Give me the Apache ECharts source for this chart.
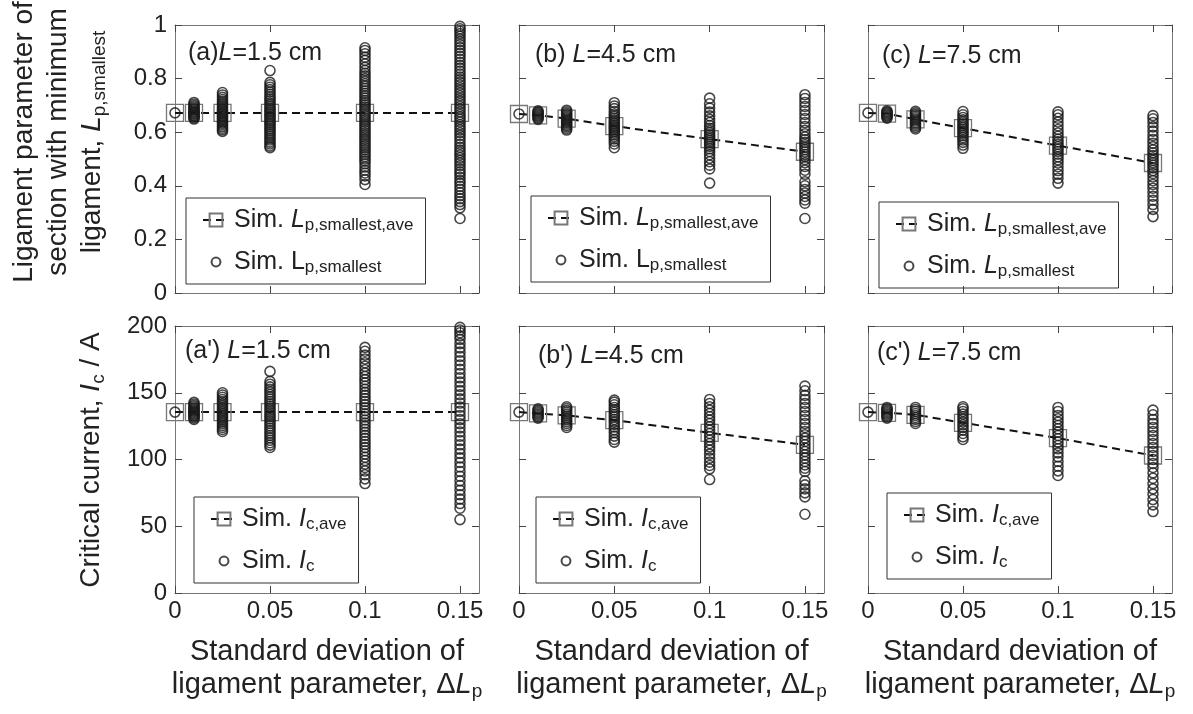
<!DOCTYPE html>
<html>
<head>
<meta charset="utf-8">
<script src="https://cdn.jsdelivr.net/npm/echarts@6/dist/echarts.min.js"></script>
<style>
  html, body { margin: 0; padding: 0; background: #fff; }
  #b { width: 1193px; height: 714px; }
</style>
</head>
<body>
<div id="b"></div>
<script>
// x positions (standard deviation of ligament parameter)
var xs = [0, 0.01, 0.025, 0.05, 0.1, 0.15];

// ---- top row: Lp,smallest ----
var lpA = [
  [0.672],
  [0.649,0.653,0.657,0.66,0.663,0.667,0.67,0.674,0.677,0.681,0.685,0.689,0.694,0.699,0.705,0.711],
  [0.603,0.609,0.615,0.621,0.627,0.633,0.638,0.643,0.648,0.653,0.658,0.662,0.667,0.671,0.676,0.68,0.685,0.69,0.696,0.702,0.708,0.715,0.722,0.73,0.739,0.748],
  [0.542,0.548,0.556,0.563,0.571,0.578,0.586,0.593,0.6,0.607,0.614,0.621,0.628,0.634,0.64,0.646,0.652,0.658,0.664,0.67,0.676,0.682,0.688,0.695,0.702,0.709,0.717,0.724,0.732,0.741,0.75,0.759,0.768,0.777,0.786,0.83],
  [0.405,0.423,0.437,0.448,0.458,0.47,0.482,0.492,0.5,0.509,0.517,0.525,0.534,0.542,0.55,0.558,0.566,0.574,0.582,0.59,0.598,0.606,0.614,0.622,0.63,0.638,0.646,0.654,0.662,0.67,0.678,0.686,0.694,0.702,0.71,0.718,0.727,0.736,0.745,0.754,0.763,0.772,0.781,0.79,0.8,0.81,0.82,0.83,0.842,0.855,0.868,0.88,0.893,0.905,0.915],
  [0.278,0.318,0.33,0.341,0.352,0.363,0.375,0.387,0.398,0.41,0.42,0.432,0.443,0.452,0.463,0.475,0.485,0.495,0.505,0.515,0.524,0.533,0.544,0.555,0.566,0.577,0.588,0.598,0.608,0.618,0.628,0.638,0.648,0.657,0.666,0.676,0.686,0.696,0.706,0.716,0.726,0.736,0.746,0.756,0.766,0.776,0.786,0.796,0.806,0.817,0.828,0.839,0.85,0.861,0.872,0.883,0.894,0.905,0.916,0.927,0.938,0.948,0.958,0.968,0.977,0.986,0.995]
];
var lpAave = [0.672, 0.672, 0.672, 0.672, 0.672, 0.672];

var lpB = [
  [0.668],
  [0.648,0.652,0.656,0.66,0.664,0.668,0.672,0.676,0.68],
  [0.608,0.614,0.62,0.625,0.63,0.635,0.64,0.645,0.65,0.655,0.66,0.665,0.67,0.676,0.682],
  [0.542,0.556,0.566,0.575,0.583,0.59,0.597,0.603,0.609,0.615,0.62,0.626,0.632,0.638,0.645,0.652,0.66,0.668,0.677,0.688,0.698,0.71],
  [0.41,0.463,0.477,0.49,0.503,0.516,0.528,0.538,0.547,0.555,0.562,0.569,0.576,0.583,0.59,0.598,0.606,0.615,0.625,0.636,0.648,0.661,0.675,0.69,0.706,0.727],
  [0.278,0.335,0.347,0.36,0.373,0.386,0.4,0.415,0.443,0.458,0.472,0.486,0.498,0.508,0.517,0.526,0.535,0.544,0.553,0.562,0.572,0.582,0.594,0.607,0.621,0.636,0.651,0.666,0.681,0.696,0.711,0.726,0.74]
];
var lpBave = [0.668, 0.663, 0.651, 0.623, 0.574, 0.527];

var lpC = [
  [0.672],
  [0.652,0.656,0.66,0.664,0.668,0.672,0.676,0.68],
  [0.612,0.618,0.624,0.63,0.636,0.642,0.648,0.654,0.66,0.666,0.672,0.678],
  [0.54,0.552,0.562,0.571,0.58,0.588,0.596,0.603,0.61,0.617,0.624,0.631,0.638,0.646,0.655,0.665,0.677],
  [0.41,0.428,0.443,0.457,0.471,0.485,0.497,0.508,0.518,0.528,0.537,0.546,0.555,0.564,0.574,0.585,0.597,0.61,0.624,0.638,0.652,0.665,0.676],
  [0.285,0.312,0.33,0.346,0.361,0.376,0.391,0.405,0.419,0.433,0.446,0.457,0.467,0.477,0.486,0.495,0.504,0.513,0.523,0.534,0.546,0.559,0.573,0.588,0.604,0.62,0.636,0.65,0.662]
];
var lpCave = [0.672, 0.669, 0.648, 0.615, 0.55, 0.485];

// ---- bottom row: Ic ----
var icA = [
  [135.5],
  [130,131,132,132.8,133.6,134.4,135.2,136,136.8,137.6,138.5,139.5,140.5,141.6,142.8],
  [121,122.5,124,125.4,126.8,128.2,129.5,130.8,132,133.2,134.4,135.6,136.8,138,139.3,140.6,142,143.5,145,146.6,148.3,150],
  [109,110.8,112.6,114.4,116.2,118,119.8,121.6,123.4,125.2,127,128.7,130.4,132,133.6,135.2,136.8,138.4,140,141.7,143.4,145.1,146.9,148.7,150.6,152.5,154.4,156.4,158.5,166],
  [82,85.5,88.6,91.4,94,96.6,99.2,101.7,104.1,106.5,108.9,111.2,113.5,115.8,118.1,120.4,122.7,125,127.3,129.6,131.9,134.2,136.5,138.8,141.1,143.4,145.7,148,150.3,152.6,155,157.4,159.8,162.2,164.7,167.2,169.8,172.5,175.3,178.2,181.1,184],
  [55,63.5,67,70.3,73.6,77,80.5,84,87.5,91,94.4,97.8,101.2,104.5,107.8,111,114.2,117.4,120.6,123.7,126.8,129.9,133,136.1,139.2,142.3,145.4,148.5,151.6,154.8,158,161.2,164.4,167.6,170.8,174,177.2,180.4,183.6,186.8,190,192.6,195,197,199]
];
var icAave = [135.5, 135.5, 135.5, 135.5, 135.5, 135.5];

var icB = [
  [135.5],
  [131,132,133,134,135,136,137,138],
  [124,125.5,127,128.4,129.8,131.2,132.6,134,135.4,136.8,138.2,139.5],
  [113,115,117.5,120,122.2,124.3,126.3,128.2,130,131.8,133.6,135.4,137.2,139,141,143,144.5],
  [85,93,95.5,98,101,104,107,109.5,112,114.5,117,119.5,122,124.5,127,129.5,132,134.5,137,139.5,142,145],
  [59,72,75,78,81,84,91,93.5,96,98.5,101,103.5,106,108.5,111,113.5,116,118.5,121,124,127,130,133,136,139,142,145,148,151.5,155]
];
var icBave = [135.5, 134.5, 133, 129.5, 120, 111];

var icC = [
  [135.5],
  [131,132,133,134,135,136,137,138,139],
  [127,128.5,130,131.5,133,134.5,136,137.5,139],
  [115,117,119.5,122,124,126,128,130,132,134,136,138,139.5],
  [88,91.5,95,98.5,102,105,108,110.5,113,115.5,118,120.5,123,125.5,128,130.5,133,136,139],
  [61,66,70,74,78,82,86,90,94,97,100,103,106,109,112,115,118,121,124,127,130,133.5,137]
];
var icCave = [135.5, 135, 133.5, 127.5, 116, 103];

var panelLabels = ['(a){i|L}=1.5 cm', '(b) {i|L}=4.5 cm', '(c) {i|L}=7.5 cm',
                   "(a') {i|L}=1.5 cm", "(b') {i|L}=4.5 cm", "(c') {i|L}=7.5 cm"];

var FONT = '"Liberation Sans", Arial, sans-serif';
var INK = '#222';

var panels = [
  {sim: lpA, ave: lpAave, name: 'A'},
  {sim: lpB, ave: lpBave, name: 'B'},
  {sim: lpC, ave: lpCave, name: 'C'},
  {sim: icA, ave: icAave, name: 'Ap'},
  {sim: icB, ave: icBave, name: 'Bp'},
  {sim: icC, ave: icCave, name: 'Cp'}
];

var grids = [
  {left: 175, top: 25, width: 304, height: 268},
  {left: 519, top: 25, width: 305, height: 268},
  {left: 868, top: 25, width: 304, height: 268},
  {left: 175, top: 326, width: 304, height: 267},
  {left: 519, top: 326, width: 305, height: 267},
  {left: 868, top: 326, width: 304, height: 267}
];
var legPos = [[186, 198], [531, 196], [879, 202], [194, 497], [536, 497], [887, 493]];
var titlePos = [[188, 41], [535, 43], [882, 44], [185, 339], [538, 344], [877, 341]];

var richBase = function (fs) {
  return {
    i: {fontStyle: 'italic', fontSize: fs, fontFamily: FONT, color: INK},
    sub: {fontSize: Math.round(fs * 0.66), fontFamily: FONT, color: INK, verticalAlign: 'bottom', lineHeight: Math.round(fs * 0.66)}
  };
};

var legendText = {
  aveA: 'Sim. {i|L}{sub|p,smallest,ave}', simA: 'Sim. L{sub|p,smallest}',
  aveB: 'Sim. {i|L}{sub|p,smallest,ave}', simB: 'Sim. L{sub|p,smallest}',
  aveC: 'Sim. {i|L}{sub|p,smallest,ave}', simC: 'Sim. {i|L}{sub|p,smallest}',
  aveAp: 'Sim. {i|I}{sub|c,ave}', simAp: 'Sim. {i|I}{sub|c}',
  aveBp: 'Sim. {i|I}{sub|c,ave}', simBp: 'Sim. {i|I}{sub|c}',
  aveCp: 'Sim. {i|I}{sub|c,ave}', simCp: 'Sim. {i|I}{sub|c}'
};

var xAxes = [], yAxes = [], series = [], legends = [], titles = [];
var circleIcon = 'path://M0,0M26,0M26,18M0,18M8,9a5,5 0 1,0 10,0a5,5 0 1,0 -10,0';

panels.forEach(function (p, i) {
  var row = i < 3 ? 0 : 1, col = i % 3;
  var tickStyle = {inside: true, length: 7, lineStyle: {color: '#444', width: 1}};
  var lineStyle = {show: true, onZero: false, lineStyle: {color: '#777', width: 1}};
  xAxes.push({
    gridIndex: i, type: 'value', min: 0, max: 0.16, interval: 0.05, position: 'bottom',
    axisLine: lineStyle, axisTick: tickStyle, splitLine: {show: false},
    axisLabel: {show: row === 1, showMaxLabel: false, fontSize: 24, fontFamily: FONT, color: INK, margin: 6},
    name: row === 1 ? 'Standard deviation of\nligament parameter, \u0394{i|L}{sub|p}' : '',
    nameLocation: 'middle', nameGap: 42,
    nameTextStyle: {fontSize: 29, fontFamily: FONT, color: INK, lineHeight: 33, rich: richBase(29)}
  });
  xAxes.push({
    gridIndex: i, type: 'value', min: 0, max: 0.16, interval: 0.05, position: 'top',
    axisLine: lineStyle, axisTick: tickStyle, splitLine: {show: false}, axisLabel: {show: false}
  });
  var ymax = row === 0 ? 1 : 200, yint = row === 0 ? 0.2 : 50;
  yAxes.push({
    gridIndex: i, type: 'value', min: 0, max: ymax, interval: yint, position: 'left',
    axisLine: lineStyle, axisTick: tickStyle, splitLine: {show: false},
    axisLabel: {show: col === 0, fontSize: 24, fontFamily: FONT, color: INK, margin: 8}
  });
  yAxes.push({
    gridIndex: i, type: 'value', min: 0, max: ymax, interval: yint, position: 'right',
    axisLine: lineStyle, axisTick: tickStyle, splitLine: {show: false}, axisLabel: {show: false}
  });

  var pts = [];
  p.sim.forEach(function (vals, k) {
    vals.forEach(function (v) { pts.push([xs[k], v]); });
  });
  series.push({
    type: 'line', name: 'ave' + p.name, xAxisIndex: 2 * i, yAxisIndex: 2 * i,
    data: xs.map(function (x, k) { return [x, p.ave[k]]; }),
    symbol: 'rect', symbolSize: 17, z: 2,
    lineStyle: {type: [8, 5], width: 2, color: '#111'},
    itemStyle: {color: 'rgba(0,0,0,0)', borderColor: '#777', borderWidth: 1.3}
  });
  series.push({
    type: 'scatter', name: 'sim' + p.name, xAxisIndex: 2 * i, yAxisIndex: 2 * i,
    data: pts, symbol: 'circle', symbolSize: 10, z: 3,
    itemStyle: {color: 'rgba(0,0,0,0)', borderColor: '#1a1a1a', borderWidth: 1.6}
  });

  legends.push({
    left: legPos[i][0], top: legPos[i][1], orient: 'vertical', selectedMode: false,
    data: [{name: 'ave' + p.name}, {name: 'sim' + p.name, icon: circleIcon}],
    borderColor: '#333', borderWidth: 1, padding: [8, 12, 8, 16],
    itemGap: 14, itemWidth: 26, itemHeight: 16,
    formatter: function (n) { return legendText[n]; },
    textStyle: {fontSize: 25, fontFamily: FONT, color: INK, lineHeight: 28, rich: richBase(25)}
  });

  titles.push({
    left: titlePos[i][0], top: titlePos[i][1], padding: 0,
    text: panelLabels[i],
    textStyle: {fontSize: 25, fontWeight: 'normal', fontFamily: FONT, color: INK, rich: richBase(25)}
  });
});

var myChart = echarts.init(document.getElementById('b'));
var option = {
  animation: false,
  backgroundColor: '#fff',
  title: titles,
  grid: grids,
  xAxis: xAxes,
  yAxis: yAxes,
  legend: legends,
  series: series,
  graphic: [
    {
      type: 'text', x: 58, y: 142, rotation: Math.PI / 2,
      style: {
        text: 'Ligament parameter of\nsection with minimum\nligament, {i|L}{sub|p,smallest}',
        fontSize: 28, fontFamily: FONT, fill: INK, align: 'center', verticalAlign: 'middle', lineHeight: 34,
        rich: {
          i: {fontStyle: 'italic', fontSize: 28, fontFamily: FONT, fill: INK},
          sub: {fontSize: 19, fontFamily: FONT, fill: INK, verticalAlign: 'bottom', lineHeight: 19}
        }
      }
    },
    {
      type: 'text', x: 91, y: 460, rotation: Math.PI / 2,
      style: {
        text: 'Critical current, {i|I}{sub|c} / A',
        fontSize: 28, fontFamily: FONT, fill: INK, align: 'center', verticalAlign: 'middle', lineHeight: 34,
        rich: {
          i: {fontStyle: 'italic', fontSize: 28, fontFamily: FONT, fill: INK},
          sub: {fontSize: 19, fontFamily: FONT, fill: INK, verticalAlign: 'bottom', lineHeight: 19}
        }
      }
    }
  ]
};
option && myChart.setOption(option);
window.addEventListener('resize', function () {
  myChart.resize();
});
</script>
</body>
</html>
